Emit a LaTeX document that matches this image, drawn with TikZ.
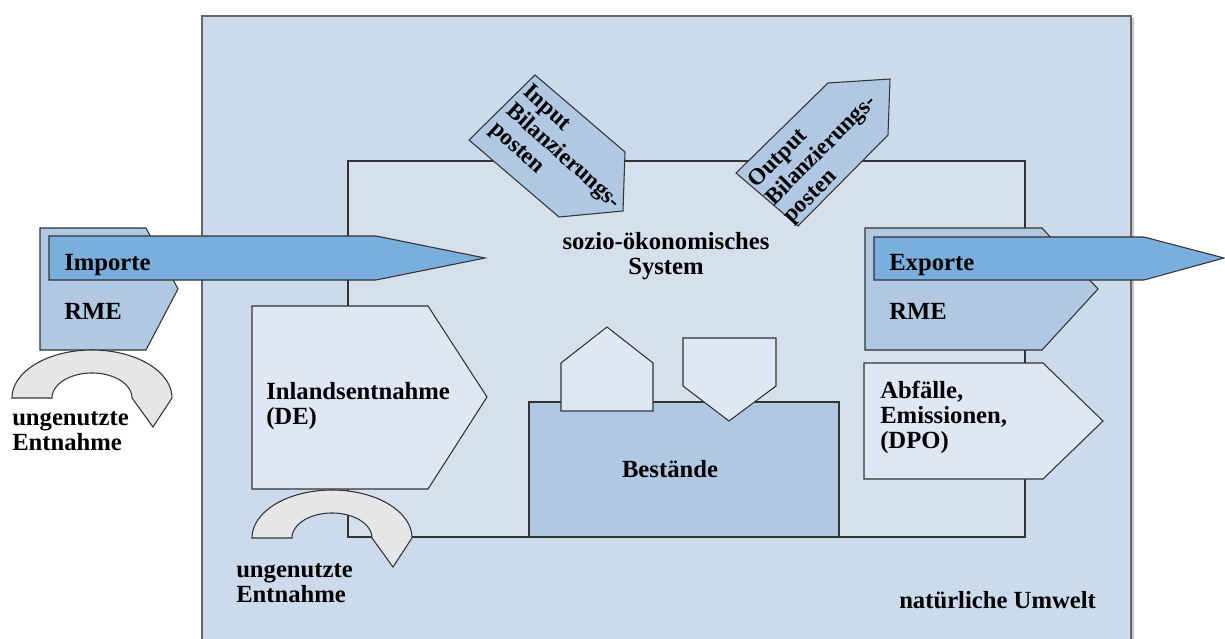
\documentclass[tikz,border=0pt]{standalone}
\usepackage{fontspec}
\setmainfont{Liberation Serif}
\definecolor{bgout}{HTML}{CCDBEB}
\definecolor{bgin}{HTML}{D5E0EC}
\definecolor{lightbox}{HTML}{DFE7F4}
\definecolor{midbox}{HTML}{B0C8E2}
\definecolor{arrowblue}{HTML}{7AAEDC}
\definecolor{arcgray}{HTML}{E5E6E8}
\definecolor{edge}{HTML}{333333}
\tikzset{
  lbl/.style={font=\fontsize{18.5}{18.75}\selectfont\bfseries, inner sep=0pt, text=black},
  rlbl/.style={font=\fontsize{17.5}{18.5}\selectfont\bfseries, inner sep=0pt, text=black},
  shp/.style={draw=edge, line width=0.8pt, line join=miter},
  lightshp/.style={shp, fill=lightbox},
  midshp/.style={shp, fill=midbox},
  arrshp/.style={shp, fill=arrowblue},
  arcshp/.style={shp, fill=arcgray},
}
\begin{document}
\begin{tikzpicture}[x=0.75pt,y=-0.75pt]
\clip (0,0) rectangle (1225,639);
\useasboundingbox (0,0) rectangle (1225,639);
% natural environment
\draw[gray!45, line width=2pt] (1133,18) -- (1133,639);
\draw[fill=bgout, draw=gray!80!black, line width=0.8pt] (202,16) rectangle (1131,700);
% socio-economic system
\draw[fill=bgin, draw=edge, line width=0.8pt] (348,161) rectangle (1025,537);
% imports
\draw[midshp] (40,228) -- (146,228) -- (178,289) -- (146,350) -- (40,350) -- cycle;
\draw[arrshp] (49,236) -- (376,236) -- (485,258) -- (376,280) -- (49,280) -- cycle;
% balancing items
\draw[midshp] (469,140) -- (535,75) -- (625,152) -- (623,211) -- (559,217) -- cycle;
\draw[midshp] (736,173) -- (828,83) -- (890,79) -- (888,135) -- (798,226) -- cycle;
% domestic extraction
\draw[lightshp] (252,306) -- (428,306) -- (487,397) -- (428,489) -- (252,489) -- cycle;
% unused extraction arcs
\draw[arcshp] (52,398) -- (12,398) -- plot[domain=180:360,samples=60] ({92+80*cos(\x)},{398+48*sin(\x)}) -- (153,427) -- plot[domain=0:-180,samples=60] ({92+40*cos(\x)},{398+25*sin(\x)}) -- cycle;
\draw[arcshp] (292,538) -- (252,538) -- plot[domain=180:360,samples=60] ({332+80*cos(\x)},{538+48*sin(\x)}) -- (393,567) -- plot[domain=0:-180,samples=60] ({332+40*cos(\x)},{538+25*sin(\x)}) -- cycle;
% stocks
\draw[midshp] (529,402) rectangle (839,537);
\draw[lightshp] (561,411) -- (561,363) -- (607,327) -- (653,363) -- (653,411) -- cycle;
\draw[lightshp] (683,338) -- (776,338) -- (776,386) -- (729,421) -- (683,386) -- cycle;
% exports
\draw[midshp] (865,228) -- (1042,228) -- (1098,289) -- (1042,350) -- (865,350) -- cycle;
\draw[arrshp] (874,237) -- (1144,237) -- (1224,258) -- (1144,280) -- (874,280) -- cycle;
\draw[lightshp] (864,363) -- (1043,363) -- (1103,421) -- (1043,479) -- (864,479) -- cycle;
% texts
\node[lbl, anchor=base west] (imp) at (64,270) {Importe};
\node[lbl, anchor=base west] (rmel) at (64,319) {RME};
\node[lbl, anchor=north west, align=left] (ungl) at (12,407.5) {\strut ungenutzte\\Entnahme};
\node[lbl, anchor=north west, align=left] (ungb) at (236,559.5) {\strut ungenutzte\\Entnahme};
\node[lbl, anchor=north west, align=left] (de) at (266,381.5) {\strut Inlandsentnahme\\(DE)};
\node[lbl, anchor=north, align=center] (sys) at (666,231.5) {\strut sozio-ökonomisches\\System};
\node[lbl, anchor=base] (best) at (670,477) {Bestände};
\node[lbl, anchor=base west] (exp) at (889,270) {Exporte};
\node[lbl, anchor=base west] (rmer) at (889,319) {RME};
\node[lbl, anchor=north west, align=left] (dpo) at (880,380.5) {\strut Abfälle,\\Emissionen,\\(DPO)};
\node[lbl, anchor=base west] (um) at (899,608) {natürliche Umwelt};
\node[rlbl, rotate=-42, align=left] (inp) at (563,157) {Input\\Bilanzierungs-\\posten};
\node[rlbl, rotate=45, align=left] (outp) at (822,151) {Output\\Bilanzierungs-\\posten};
\end{tikzpicture}
\end{document}
